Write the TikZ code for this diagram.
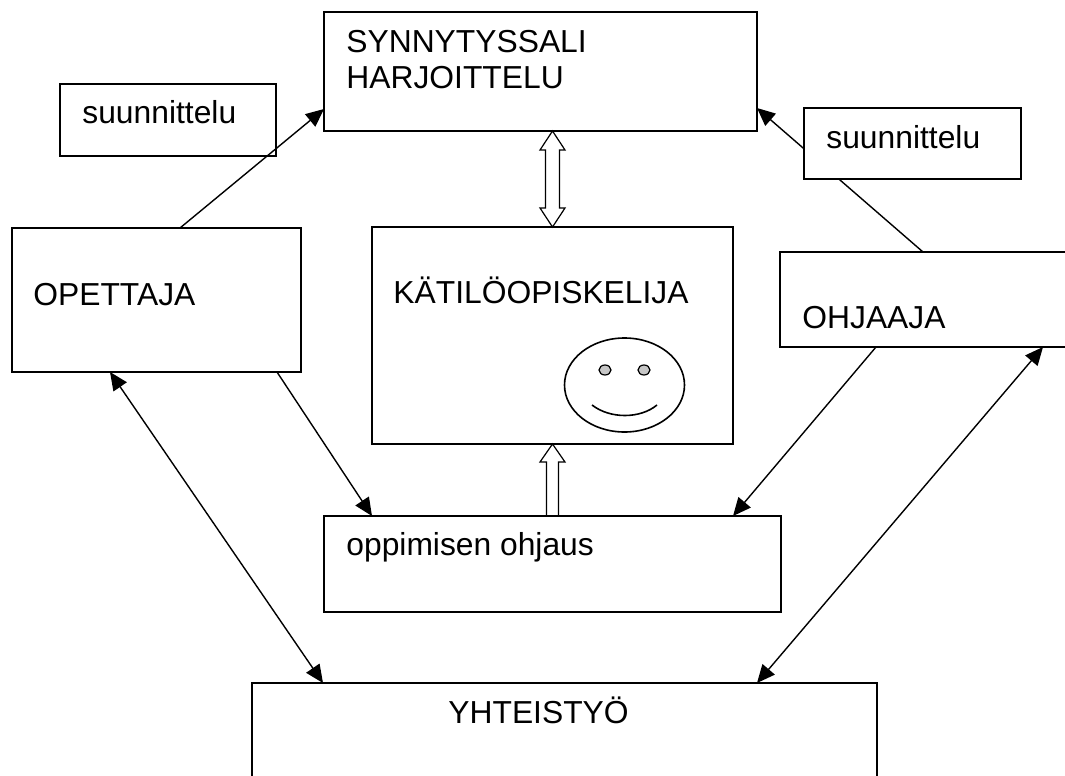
\documentclass[tikz,border=0pt]{standalone}
\usepackage{fontspec}
\setmainfont{Liberation Sans}
\usetikzlibrary{arrows.meta,shapes.geometric}

\begin{document}
\begin{tikzpicture}
  [x=.5pt,y=-.5pt,
   box/.style={draw,line width=1pt,rectangle,inner sep=0pt,outer sep=0pt,anchor=north west,fill=white},
   lbl/.style={anchor=base west,inner sep=0pt,font=\fontsize{15.9}{18}\selectfont},
   link/.style={line width=.7pt,-{Triangle[length=9pt,width=8pt]}},
   both/.style={line width=.7pt,{Triangle[length=9pt,width=8pt]}-{Triangle[length=9pt,width=8pt]}},
   hollow/.style={line width=.6pt,line join=miter}]
  \useasboundingbox (0,0) rectangle (1065,776);
  \clip (0,0) rectangle (1065,776);

  \node[box,minimum width=216.5pt,minimum height=59.5pt] (synn) at (324,12) {};
  \node[box,minimum width=108pt,minimum height=36pt] (suun1) at (60,84) {};
  \node[box,minimum width=144.5pt,minimum height=72pt] (opet) at (12,228) {};
  \node[box,minimum width=180.5pt,minimum height=108.5pt] (kati) at (372,227) {};
  \node[box,minimum width=150pt,minimum height=47.5pt] (ohja) at (780,252) {};
  \node[box,minimum width=228.5pt,minimum height=48pt] (oppi) at (324,516) {};
  \node[box,minimum width=312.5pt,minimum height=60pt] (yhte) at (252,683) {};

  % connectors
  \draw[link] ([shift={(23.5,0)}]opet.north) -- ([shift={(0,37.5)}]synn.west);
  \draw[link] ([shift={(-7,0)}]ohja.north) -- ([shift={(0,36.5)}]synn.east);
  \draw[link] ([shift={(120.5,0)}]opet.south) -- ([shift={(-180.5,0)}]oppi.north);
  \draw[link] ([shift={(-54,0)}]ohja.south) -- ([shift={(180.5,0)}]oppi.north);
  \draw[both] ([shift={(-46.5,0)}]opet.south) -- ([shift={(-241.5,0)}]yhte.north);
  \draw[both] ([shift={(113,0)}]ohja.south) -- ([shift={(192.5,0)}]yhte.north);

  % hollow arrows
  \draw[hollow] (kati.north) -- ++(12.5,-19) -- ++(-5.5,0) -- ++(0,-58) -- ++(5.5,0)
    -- ++(-12.5,-19) -- ++(-12.5,19) -- ++(5.5,0) -- ++(0,58) -- ++(-5.5,0) -- cycle;
  \draw[hollow] (kati.south) -- ++(12.5,18) -- ++(-6.5,0) -- ++(0,54) -- ++(-12,0)
    -- ++(0,-54) -- ++(-6.5,0) -- cycle;

  \node[box,minimum width=108.5pt,minimum height=35.5pt] (suun2) at (804,108) {};

  % smiley
  \node[draw,ellipse,line width=.8pt,inner sep=0pt,minimum width=60pt,minimum height=47pt] (face) at (624.5,385) {};
  \node[draw,ellipse,fill=gray!45,line width=.6pt,inner sep=0pt,minimum width=6pt,minimum height=5pt] (eyeL) at (605,370) {};
  \node[draw,ellipse,fill=gray!45,line width=.6pt,inner sep=0pt,minimum width=6pt,minimum height=5pt] (eyeR) at (644,370) {};
  \draw[line width=.8pt] (592,405) .. controls (610,419) and (640,419) .. (657,405);

  % texts
  \node[lbl] (tsynn1) at (346,52) {SYNNYTYSSALI};
  \node[lbl] (tsynn2) at (346,88) {HARJOITTELU};
  \node[lbl] (tsuun1) at (82,123) {suunnittelu};
  \node[lbl] (tsuun2) at (826,148) {suunnittelu};
  \node[lbl] (topet) at (33,305) {OPETTAJA};
  \node[lbl] (tkati) at (393,303) {KÄTILÖOPISKELIJA};
  \node[lbl] (tohja) at (802,328) {OHJAAJA};
  \node[lbl] (toppi) at (346,555) {oppimisen ohjaus};
  \node[lbl] (tyhte) at (448,723) {YHTEISTYÖ};
\end{tikzpicture}
\end{document}
